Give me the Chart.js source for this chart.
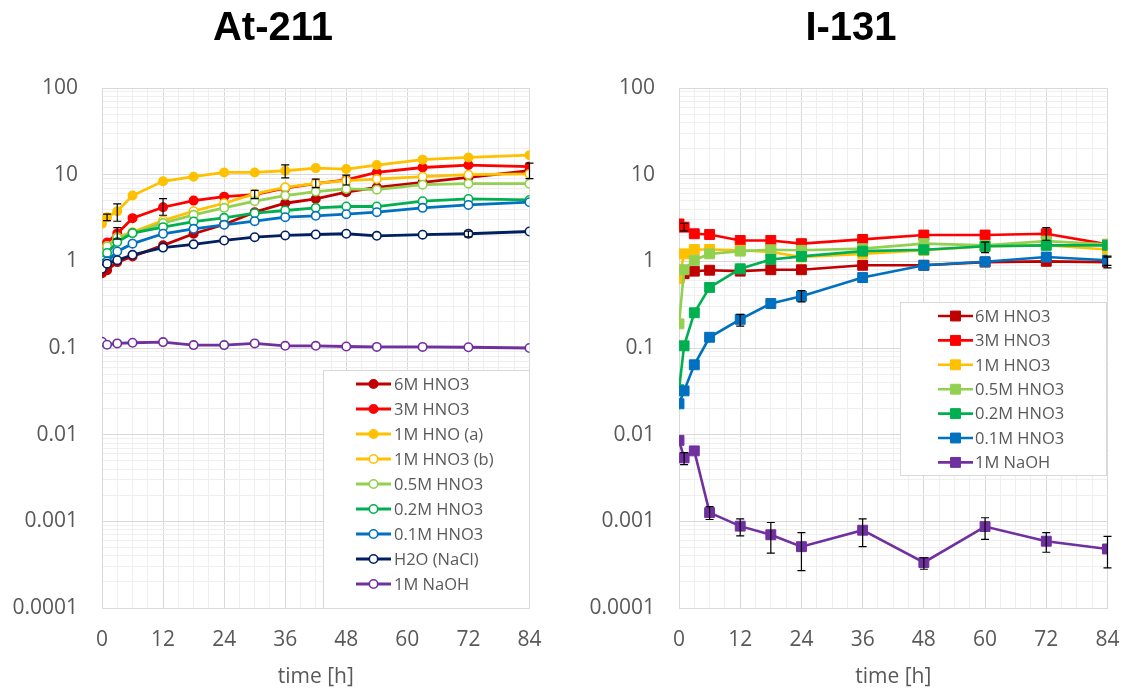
<!DOCTYPE html>
<html>
<head>
<meta charset="utf-8">
<script src="https://cdn.jsdelivr.net/npm/chart.js@4"></script>
<style>
  body { margin: 0; background: #fff; width: 1124px; height: 688px; position: relative; overflow: hidden; }
  canvas { position: absolute; top: 0; }
  #atChart { left: 0; }
  #iChart { left: 578px; }
</style>
</head>
<body>
<canvas id="atChart" width="546" height="688"></canvas>
<canvas id="iChart" width="546" height="688"></canvas>
<script>
// ---- At-211 data ----
const atTimes = [0, 1, 3, 6, 12, 18, 24, 30, 36, 42, 48, 54, 63, 72, 84];
const at6M  = [0.73, 0.79, 0.98, 1.14, 1.53, 2.08, 2.66, 3.69, 4.68, 5.25, 6.27, 7.15, 8.17, 9.31, 11.1];
const at3M  = [1.45, 1.65, 2.1, 3.15, 4.21, 5.02, 5.58, 5.89, 7.0, 7.9, 8.7, 10.6, 12.1, 12.9, 12.4];
const at1Ma = [2.71, 3.23, 3.79, 5.74, 8.38, 9.48, 10.6, 10.6, 11.1, 11.9, 11.6, 12.9, 14.9, 15.8, 16.8];
const at1Mb = [1.2, 1.5, 1.9, 2.17, 2.96, 3.79, 4.68, 6.0, 7.15, 7.95, 8.53, 8.9, 9.48, 10.0, 10.2];
const at05M = [1.22, 1.49, 1.87, 2.1, 2.76, 3.44, 4.14, 4.94, 5.74, 6.38, 6.84, 6.72, 7.67, 7.88, 7.88];
const at02M = [1.03, 1.25, 1.67, 2.12, 2.48, 2.88, 3.18, 3.59, 3.86, 4.14, 4.29, 4.29, 4.94, 5.25, 5.11];
const at01M = [0.94, 1.0, 1.3, 1.6, 2.08, 2.37, 2.64, 2.91, 3.23, 3.35, 3.5, 3.69, 4.14, 4.48, 4.81];
const atH2O = [0.82, 0.94, 1.03, 1.19, 1.44, 1.57, 1.74, 1.9, 1.99, 2.04, 2.08, 1.97, 2.03, 2.08, 2.21];
const atNaOH = [0.118, 0.109, 0.113, 0.115, 0.117, 0.108, 0.108, 0.113, 0.106, 0.106, 0.104, 0.103, 0.103, 0.102, 0.100];

// error bars (null = none)
const at1MaHi = [null, 3.5, 4.6, null, null, null, null, null, 13.0, null, null, null, null, null, null];
const at1MaLo = [null, 2.95, 2.9, null, null, null, null, null, 9.2, null, null, null, null, null, null];
const at3MHi  = [null, null, 2.45, null, 5.3, null, null, null, null, null, null, null, null, null, null];
const at3MLo  = [null, null, 1.8, null, 3.4, null, null, null, null, null, null, null, null, null, null];
const at1MbHi = [null, null, null, null, null, null, null, 6.6, null, 8.9, 9.9, null, null, null, null];
const at1MbLo = [null, null, null, null, null, null, null, 5.3, null, 7.1, 7.6, null, null, null, null];
const at6MHi  = [null, null, null, null, null, null, null, null, null, null, null, null, null, null, 13.6];
const at6MLo  = [null, null, null, null, null, null, null, null, null, null, null, null, null, null, 9.0];
const atH2OHi = [null, null, null, null, null, null, null, null, null, null, null, null, null, 2.23, null];
const atH2OLo = [null, null, null, null, null, null, null, null, null, null, null, null, null, 1.92, null];

// ---- I-131 data ----
const iTimes = [0, 1, 3, 6, 12, 18, 24, 36, 48, 60, 72, 84];
const i6M  = [0.65, 0.72, 0.77, 0.79, 0.77, 0.8, 0.8, 0.9, 0.9, 0.98, 1.0, 0.98];
const i3M  = [2.7, 2.48, 2.08, 2.04, 1.74, 1.74, 1.6, 1.79, 2.01, 2.01, 2.08, 1.57];
const i1M  = [0.63, 1.22, 1.37, 1.37, 1.34, 1.28, 1.12, 1.22, 1.34, 1.49, 1.53, 1.37];
const i05M = [0.19, 0.8, 1.03, 1.22, 1.31, 1.36, 1.34, 1.4, 1.6, 1.53, 1.71, 1.57];
const i02M = [0.033, 0.106, 0.255, 0.5, 0.82, 1.05, 1.14, 1.31, 1.36, 1.49, 1.53, 1.53];
const i01M = [0.0227, 0.032, 0.064, 0.133, 0.214, 0.326, 0.396, 0.65, 0.9, 0.99, 1.12, 1.03];
const iNaOH = [0.0086, 0.0054, 0.0065, 0.00126, 0.00088, 0.0007, 0.00051, 0.00079, 0.000335, 0.00087, 0.00059, 0.00048];

const i3MHi = [null, 2.75, null, null, null, null, null, null, null, null, 2.45, null];
const i3MLo = [null, 2.25, null, null, null, null, null, null, null, null, 1.75, null];
const i6MHi = [null, null, null, null, null, null, null, null, null, null, null, 1.12];
const i6MLo = [null, null, null, null, null, null, null, null, null, null, null, 0.84];
const i02MHi = [null, null, null, null, null, null, null, null, null, 1.67, null, null];
const i02MLo = [null, null, null, null, null, null, null, null, null, 1.26, null, null];
const i01MHi = [null, null, null, null, 0.244, null, 0.46, null, null, null, null, 1.15];
const i01MLo = [null, null, null, null, 0.179, null, 0.34, null, null, null, null, 0.9];
const iNaOHHi = [null, 0.0062, null, 0.00148, 0.00107, 0.00097, 0.00074, 0.00107, 0.00038, 0.0011, 0.00074, 0.00067];
const iNaOHLo = [null, 0.0045, null, 0.00105, 0.00068, 0.00043, 0.00027, 0.00051, 0.00028, 0.00062, 0.00044, 0.00029];

// ---- axis ticks ----
const yTickLabels = ['0.0001', '0.001', '0.01', '0.1', '1', '10', '100'];
const yGridValues = [];
for (let e = -4; e < 2; e++) for (let m = 1; m <= 9; m++) yGridValues.push(+(m * Math.pow(10, e)).toPrecision(3));
yGridValues.push(100);

const FONT = '"Open Sans", "Liberation Sans", sans-serif';
const TXT = '#595959';
const GRID_MAJOR = '#d9d9d9';
const GRID_MINOR = '#efefef';

function isDecade(v) {
  const e = Math.log10(v);
  return Math.abs(e - Math.round(e)) < 1e-6;
}

function series(label, times, vals, color, filled, style, hi, lo) {
  const isRect = style === 'rect';
  return {
    label: label,
    data: times.map((t, i) => ({ x: t, y: vals[i] })),
    borderColor: color,
    backgroundColor: filled ? color : '#ffffff',
    pointBackgroundColor: filled ? color : '#ffffff',
    pointBorderColor: color,
    pointBorderWidth: isRect ? 1 : 1.6,
    pointStyle: style,
    pointRadius: isRect ? 7 : 4.2,
    borderWidth: isRect ? 2.6 : 2.8,
    tension: 0,
    errHi: hi,
    errLo: lo
  };
}

const errorBars = {
  id: 'errorBars',
  afterDatasetsDraw(chart) {
    const { ctx, scales: { x, y } } = chart;
    ctx.save();
    ctx.strokeStyle = '#000';
    ctx.lineWidth = 1.2;
    chart.data.datasets.forEach(d => {
      if (!d.errHi) return;
      d.data.forEach((p, i) => {
        if (d.errHi[i] == null) return;
        const px = x.getPixelForValue(p.x);
        const y1 = y.getPixelForValue(d.errHi[i]);
        const y2 = y.getPixelForValue(d.errLo[i]);
        ctx.beginPath();
        ctx.moveTo(px, y1); ctx.lineTo(px, y2);
        ctx.moveTo(px - 4, y1); ctx.lineTo(px + 4, y1);
        ctx.moveTo(px - 4, y2); ctx.lineTo(px + 4, y2);
        ctx.stroke();
      });
    });
    ctx.restore();
  }
};

// legend box inside the plot, drawn by hand
const boxLegend = {
  id: 'boxLegend',
  afterDraw(chart, args, o) {
    const ctx = chart.ctx;
    ctx.save();
    ctx.fillStyle = '#ffffff';
    ctx.fillRect(o.x, o.y, o.w, o.h);
    ctx.strokeStyle = '#d9d9d9';
    ctx.lineWidth = 1;
    ctx.strokeRect(o.x + 0.5, o.y + 0.5, o.w, o.h);
    ctx.font = '16.5px ' + FONT;
    ctx.textBaseline = 'middle';
    ctx.fillStyle = TXT;
    chart.data.datasets.forEach((d, i) => {
      const cy = o.first + i * o.step;
      ctx.strokeStyle = d.borderColor;
      ctx.lineWidth = d.borderWidth;
      ctx.beginPath();
      ctx.moveTo(o.x0, cy); ctx.lineTo(o.x1, cy);
      ctx.stroke();
      const mx = (o.x0 + o.x1) / 2;
      ctx.fillStyle = d.pointBackgroundColor;
      ctx.strokeStyle = d.pointBorderColor;
      ctx.lineWidth = d.pointBorderWidth;
      ctx.beginPath();
      if (d.pointStyle === 'rect') {
        const s = d.pointRadius * Math.SQRT1_2;
        ctx.rect(mx - s, cy - s, 2 * s, 2 * s);
      } else {
        ctx.arc(mx, cy, d.pointRadius, 0, Math.PI * 2);
      }
      ctx.fill();
      ctx.stroke();
      ctx.fillStyle = TXT;
      ctx.fillText(d.label, o.tx, cy + 1);
    });
    ctx.restore();
  }
};

function makeChart(id, title, datasets, yWidth, legendOpts) {
  datasets.forEach((d, i) => { d.order = -i; });
  return new Chart(document.getElementById(id), {
    type: 'line',
    data: { datasets: datasets },
    plugins: [errorBars, boxLegend],
    options: {
      responsive: false,
      animation: false,
      devicePixelRatio: 1,
      layout: { padding: 0 },
      plugins: {
        legend: { display: false },
        tooltip: { enabled: false },
        title: {
          display: true,
          text: title,
          color: '#000',
          font: { family: '"Liberation Sans", Arial, sans-serif', size: 40, weight: 'bold', lineHeight: 1.2 },
          padding: { top: 5, bottom: 35 }
        },
        boxLegend: legendOpts
      },
      scales: {
        x: {
          type: 'linear',
          min: 0,
          max: 84,
          afterFit: s => { s.height = 80; },
          ticks: {
            stepSize: 3,
            autoSkip: false,
            maxRotation: 0,
            padding: 4.5,
            color: TXT,
            font: { family: FONT, size: 21 },
            callback: v => (v % 12 === 0 ? String(v) : '')
          },
          grid: {
            drawTicks: true,
            tickLength: 15,
            tickColor: 'rgba(0,0,0,0)',
            color: c => (c.tick && c.tick.value % 12 === 0 ? GRID_MAJOR : GRID_MINOR)
          },
          border: { color: GRID_MAJOR },
          title: {
            display: true,
            text: 'time [h]',
            color: TXT,
            font: { family: FONT, size: 21, lineHeight: 1 },
            padding: { top: 0, bottom: 0 }
          }
        },
        y: {
          type: 'logarithmic',
          min: 0.0001,
          max: 100,
          afterFit: s => { s.width = yWidth; },
          afterBuildTicks: s => { s.ticks = yGridValues.map(v => ({ value: v, major: isDecade(v) })); },
          ticks: {
            autoSkip: false,
            padding: 24,
            color: TXT,
            font: { family: FONT, size: 21 },
            callback: v => (isDecade(v) ? yTickLabels[Math.round(Math.log10(v)) + 4] : '')
          },
          grid: {
            drawTicks: false,
            color: c => (c.tick && isDecade(c.tick.value) ? GRID_MAJOR : GRID_MINOR)
          },
          border: { color: GRID_MAJOR }
        }
      }
    }
  });
}

makeChart('atChart', 'At-211', [
  series('6M HNO3', atTimes, at6M, '#C00000', true, 'circle', at6MHi, at6MLo),
  series('3M HNO3', atTimes, at3M, '#FF0000', true, 'circle', at3MHi, at3MLo),
  series('1M HNO (a)', atTimes, at1Ma, '#FFC000', true, 'circle', at1MaHi, at1MaLo),
  series('1M HNO3 (b)', atTimes, at1Mb, '#FFC000', false, 'circle', at1MbHi, at1MbLo),
  series('0.5M HNO3', atTimes, at05M, '#92D050', false, 'circle', null, null),
  series('0.2M HNO3', atTimes, at02M, '#00B050', false, 'circle', null, null),
  series('0.1M HNO3', atTimes, at01M, '#0070C0', false, 'circle', null, null),
  series('H2O (NaCl)', atTimes, atH2O, '#002060', false, 'circle', atH2OHi, atH2OLo),
  series('1M NaOH', atTimes, atNaOH, '#7030A0', false, 'circle', null, null)
], 102, { x: 323, y: 370, w: 206, h: 238, first: 384, step: 25, x0: 356, x1: 391, tx: 394 });

makeChart('iChart', 'I-131', [
  series('6M HNO3', iTimes, i6M, '#C00000', true, 'rect', i6MHi, i6MLo),
  series('3M HNO3', iTimes, i3M, '#FF0000', true, 'rect', i3MHi, i3MLo),
  series('1M HNO3', iTimes, i1M, '#FFC000', true, 'rect', null, null),
  series('0.5M HNO3', iTimes, i05M, '#92D050', true, 'rect', null, null),
  series('0.2M HNO3', iTimes, i02M, '#00B050', true, 'rect', i02MHi, i02MLo),
  series('0.1M HNO3', iTimes, i01M, '#0070C0', true, 'rect', i01MHi, i01MLo),
  series('1M NaOH', iTimes, iNaOH, '#7030A0', true, 'rect', iNaOHHi, iNaOHLo)
], 101, { x: 322, y: 302, w: 206, h: 173, first: 316, step: 24.4, x0: 360, x1: 395, tx: 397 });
</script>
</body>
</html>
